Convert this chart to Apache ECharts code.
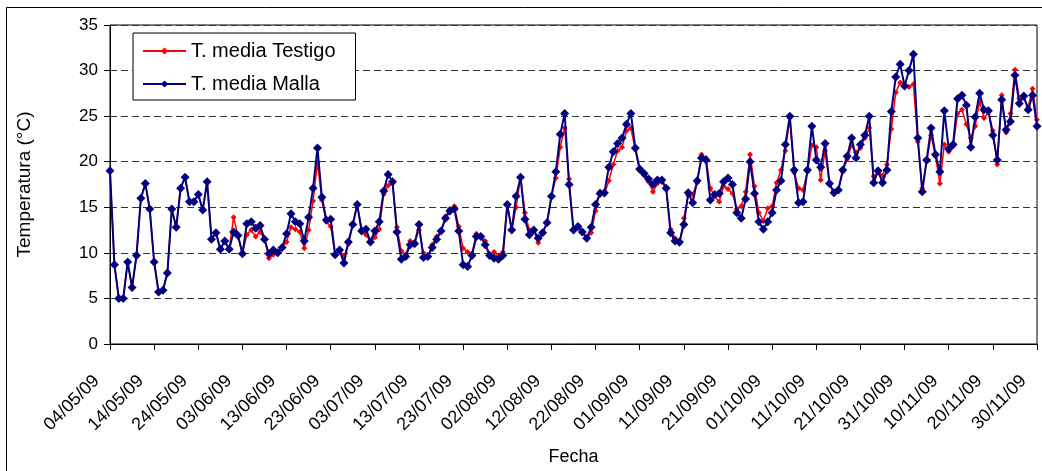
<!DOCTYPE html>
<html>
<head>
<meta charset="utf-8">
<script src="https://cdn.jsdelivr.net/npm/echarts@6.0.0/dist/echarts.min.js"></script>
<style>
html, body { margin: 0; padding: 0; background: #fff; }
#chart { width: 1042px; height: 471px; }
</style>
</head>
<body>
<div id="chart"></div>
<script>
// fechas diarias desde el 04/05/09 (211 dias)
const fechaInicio = Date.UTC(2009, 4, 4);
const numDias = 211;

// T. media Testigo (rojo)
const testigo = [
	19.0, 8.7, 5.0, 5.0, 9.0, 6.2, 9.7, 16.0, 17.6, 14.8,
	9.0, 5.7, 5.9, 7.8, 14.8, 12.8, 17.1, 18.3, 15.6, 15.6,
	16.4, 14.7, 17.8, 11.5, 12.2, 10.4, 11.3, 10.4, 13.9, 11.9,
	9.9, 12.0, 12.5, 11.8, 12.3, 11.5, 9.4, 9.8, 10.0, 10.6,
	11.2, 12.8, 12.6, 12.3, 10.5, 12.5, 15.7, 19.9, 15.8, 13.4,
	12.9, 9.8, 10.3, 9.6, 11.0, 13.1, 15.3, 12.6, 12.0, 11.2,
	11.7, 12.6, 16.4, 17.4, 17.6, 12.8, 10.2, 9.8, 11.3, 11.2,
	12.5, 10.0, 9.6, 10.9, 11.8, 12.4, 14.0, 14.8, 15.1, 12.9,
	10.5, 10.1, 9.9, 12.1, 11.8, 11.3, 9.7, 10.1, 9.6, 10.1,
	15.3, 12.5, 15.0, 18.3, 14.4, 12.5, 12.5, 11.1, 12.2, 13.3,
	16.2, 18.2, 21.6, 23.7, 18.1, 12.5, 12.9, 12.3, 11.6, 12.2,
	14.6, 16.7, 16.4, 17.9, 19.7, 21.2, 21.6, 23.4, 23.7, 21.3,
	19.0, 18.5, 17.8, 16.7, 17.6, 17.8, 17.0, 12.6, 11.6, 11.0,
	13.8, 16.3, 16.4, 17.7, 20.8, 20.4, 17.1, 16.2, 15.6, 17.3,
	17.0, 16.5, 14.8, 15.1, 16.7, 20.8, 17.3, 14.4, 13.5, 14.9,
	15.1, 17.7, 19.1, 21.2, 24.8, 18.8, 17.1, 16.9, 18.9, 21.8,
	21.6, 18.0, 21.2, 17.5, 16.6, 16.9, 18.9, 20.3, 21.8, 21.0,
	21.5, 22.6, 23.7, 18.4, 18.8, 18.5, 19.7, 23.6, 27.6, 28.7,
	28.5, 28.2, 28.5, 22.2, 17.1, 20.0, 22.9, 20.6, 17.6, 21.9,
	21.1, 21.7, 25.3, 25.7, 24.1, 22.6, 23.9, 26.6, 24.8, 25.4,
	23.4, 19.7, 27.3, 23.2, 25.3, 30.1, 26.9, 27.0, 26.0, 28.0,
	24.6
];

// T. media Malla (azul)
const malla = [
	19.0, 8.7, 5.0, 5.0, 9.0, 6.2, 9.7, 16.0, 17.6, 14.8,
	9.0, 5.7, 5.9, 7.8, 14.8, 12.8, 17.1, 18.3, 15.6, 15.6,
	16.4, 14.7, 17.8, 11.5, 12.2, 10.4, 11.3, 10.4, 12.3, 11.9,
	9.9, 13.2, 13.4, 12.7, 13.0, 11.5, 9.9, 10.3, 10.0, 10.6,
	12.1, 14.3, 13.4, 13.2, 11.3, 13.9, 17.1, 21.5, 16.1, 13.6,
	13.7, 9.8, 10.3, 8.9, 11.2, 13.1, 15.3, 12.4, 12.6, 11.2,
	12.4, 13.4, 16.8, 18.6, 17.8, 12.3, 9.3, 9.6, 10.9, 11.0,
	13.1, 9.5, 9.6, 10.6, 11.5, 12.4, 13.8, 14.6, 14.8, 12.4,
	8.7, 8.5, 9.7, 11.8, 11.8, 10.9, 9.7, 9.4, 9.3, 9.7,
	15.3, 12.5, 16.2, 18.3, 13.7, 12.0, 12.5, 11.6, 12.2, 13.3,
	16.2, 18.9, 23.0, 25.3, 17.5, 12.5, 12.9, 12.3, 11.6, 12.8,
	15.3, 16.5, 16.6, 19.4, 21.1, 22.0, 22.6, 24.1, 25.3, 21.5,
	19.2, 18.7, 18.1, 17.5, 18.0, 18.0, 17.1, 12.2, 11.3, 11.2,
	13.1, 16.6, 15.5, 17.9, 20.4, 20.2, 15.8, 16.4, 16.5, 17.8,
	18.2, 17.5, 14.4, 13.8, 15.9, 20.0, 16.5, 13.4, 12.6, 13.4,
	14.4, 16.9, 17.9, 21.9, 25.0, 19.1, 15.5, 15.6, 19.1, 23.9,
	20.2, 19.4, 22.0, 17.6, 16.6, 16.9, 19.1, 20.6, 22.6, 20.4,
	21.9, 22.9, 25.0, 17.7, 19.0, 17.7, 19.1, 25.5, 29.3, 30.7,
	28.3, 30.0, 31.8, 22.6, 16.7, 20.2, 23.7, 20.8, 18.9, 25.6,
	21.4, 21.9, 26.9, 27.3, 26.2, 21.6, 24.9, 27.5, 25.7, 25.6,
	22.9, 20.2, 26.8, 23.5, 24.4, 29.5, 26.4, 27.2, 25.7, 27.3,
	23.9
];

const fuente = "'Liberation Sans', Arial, sans-serif";

function dosDig(n) {
	return (n < 10 ? '0' : '') + n;
}

const fechas = [];
for (let i = 0; i < numDias; i++) {
	const d = new Date(fechaInicio + i * 86400000);
	fechas.push(dosDig(d.getUTCDate()) + '/' + dosDig(d.getUTCMonth() + 1) + '/' + String(d.getUTCFullYear()).slice(2));
}

const myChart = echarts.init(document.getElementById('chart'));

const option = {
	animation: false,
	backgroundColor: '#fff',
	textStyle: { fontFamily: fuente, color: '#000' },
	grid: {
		left: 110, right: 5, top: 25, bottom: 127,
		outerBoundsMode: 'none',
		containLabel: false,
		show: true, borderColor: '#000', borderWidth: 1
	},
	legend: {
		orient: 'vertical',
		left: 133, top: 33,
		backgroundColor: '#fff',
		borderColor: '#000', borderWidth: 1, borderRadius: 0,
		padding: [8, 20, 6, 9],
		itemWidth: 43, itemHeight: 9, itemGap: 13,
		textStyle: { fontSize: 20, color: '#000', fontFamily: fuente },
		data: ['T. media Testigo', 'T. media Malla']
	},
	xAxis: {
		type: 'category',
		data: fechas,
		boundaryGap: false,
		axisLine: { lineStyle: { color: '#000', width: 1 } },
		axisTick: { interval: 9, length: 6, lineStyle: { color: '#000' } },
		axisLabel: {
			interval: 9, rotate: 45, margin: 8,
			verticalAlign: 'top',
			padding: [0, 28, 0, 0],
			fontSize: 18, color: '#000', fontFamily: fuente
		},
		splitLine: { show: false },
		name: 'Fecha',
		nameLocation: 'middle',
		nameGap: 104,
		nameMoveOverlap: false,
		nameTextStyle: { fontSize: 18, color: '#000', fontFamily: fuente }
	},
	yAxis: {
		type: 'value',
		min: 0, max: 35, interval: 5,
		axisLine: { show: true, lineStyle: { color: '#000' } },
		axisTick: { show: true, length: 6, lineStyle: { color: '#000' } },
		axisLabel: { fontSize: 17, color: '#000', margin: 12, fontFamily: fuente },
		splitLine: { show: true, lineStyle: { color: '#333', width: 1, type: [7, 4] } },
		name: 'Temperatura (°C)',
		nameLocation: 'middle',
		nameGap: 76,
		nameMoveOverlap: false,
		nameTextStyle: { fontSize: 19, color: '#000', fontFamily: fuente }
	},
	series: [{
		name: 'T. media Testigo',
		type: 'line',
		data: testigo,
		symbol: 'diamond',
		symbolSize: 6,
		showSymbol: true,
		showAllSymbol: true,
		lineStyle: { color: '#ff0000', width: 1.5 },
		itemStyle: { color: '#ff0000' },
		z: 2
	}, {
		name: 'T. media Malla',
		type: 'line',
		data: malla,
		symbol: 'diamond',
		symbolSize: 9,
		showSymbol: true,
		showAllSymbol: true,
		lineStyle: { color: '#000080', width: 2 },
		itemStyle: { color: '#000080' },
		z: 3
	}],
	graphic: [{
		//marco exterior del grafico (solo lados izquierdo y superior visibles)
		type: 'polyline',
		shape: { points: [[6.5, 471], [6.5, 7.5], [1042, 7.5]] },
		style: { fill: null, stroke: '#000', lineWidth: 1 },
		silent: true,
		z: 100
	}]
};

myChart.setOption(option);
</script>
</body>
</html>
